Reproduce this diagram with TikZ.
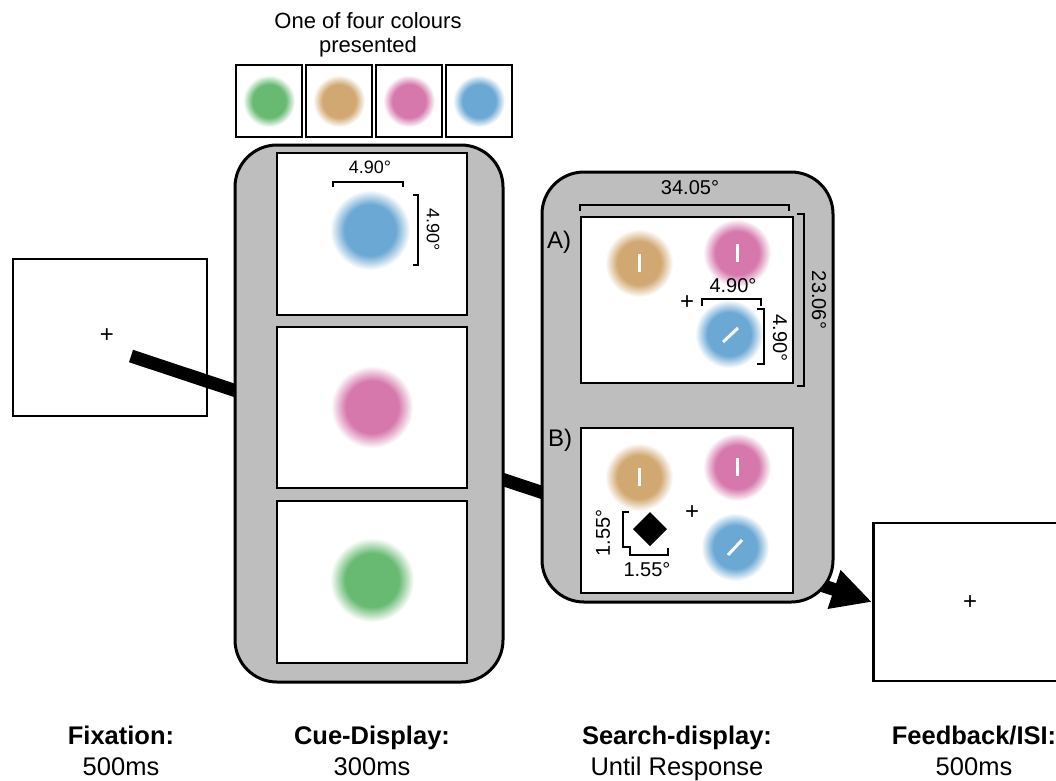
\documentclass[tikz,border=0pt]{standalone}
\usepackage{fontspec}
\setmainfont{Liberation Sans}
\usetikzlibrary{arrows.meta}

\definecolor{panelgrey}{RGB}{190,190,190}
\definecolor{cgreen}{RGB}{104,186,114}
\definecolor{ctan}{RGB}{210,168,114}
\definecolor{cpink}{RGB}{214,120,172}
\definecolor{cblue}{RGB}{108,168,212}
\colorlet{cgreenmid}{cgreen!45!white}
\colorlet{ctanmid}{ctan!45!white}
\colorlet{cpinkmid}{cpink!45!white}
\colorlet{cbluemid}{cblue!45!white}

% soft-edged colour disc: solid core fading out to white at the rim
\newcommand\declareblob[1]{%
  \pgfdeclareradialshading{blob#1}{\pgfpoint{0bp}{0bp}}%
    {color(0bp)=(c#1); color(16bp)=(c#1); color(21bp)=(c#1mid); color(25bp)=(white); color(50bp)=(white)}}
\declareblob{green}
\declareblob{tan}
\declareblob{pink}
\declareblob{blue}
\newcommand\blob[4]{\shade[shading=blob#1] (#2,#3) circle (#4pt);}

\begin{document}
\begin{tikzpicture}[x=1pt,y=-1pt,
  screen/.style={draw, line width=2.8pt, fill=white, inner sep=0pt},
  holder/.style={draw, line width=3pt, fill=panelgrey, rounded corners=42pt, inner sep=0pt},
  bracket/.style={line width=2pt},
  bar/.style={white, line width=3pt},
  deg/.style={font=\fontsize{20}{22}\selectfont, inner sep=0pt},
  smalldeg/.style={font=\fontsize{18}{20}\selectfont, inner sep=0pt},
  fixcross/.style={font=\fontsize{24}{24}\selectfont, inner sep=0pt},
  tag/.style={font=\fontsize{24}{26}\selectfont, inner sep=0pt},
  title/.style={font=\fontsize{22}{24}\selectfont, inner sep=0pt, anchor=base},
  phase/.style={font=\bfseries\fontsize{25.5}{28}\selectfont, inner sep=0pt, anchor=base},
  timing/.style={font=\fontsize{25.5}{28}\selectfont, inner sep=0pt, anchor=base}]
\useasboundingbox (0,0) rectangle (1056,780);

% fixation and feedback screens
\node[screen, minimum width=194pt, minimum height=157pt] (fix) at (110,337.5) {};
\node[fixcross] (fixplus) at (107,336) {+};
\node[screen, minimum width=200pt, minimum height=158pt, anchor=west] (fb) at (872,602) {};
\node[fixcross] (fbplus) at (970,603) {+};

% trial time line, running behind the grey holders
\coordinate (start) at (131,356);
\draw[line width=13pt, -{Triangle[length=40pt,width=38pt]}] (start) -- (fb.west);

% colour swatches
\node[title] (title1) at (368,28) {One of four colours};
\node[title] (title2) at (368,52) {presented};
\foreach \c [count=\i] in {green,tan,pink,blue}{
  \node[screen, minimum width=66pt, minimum height=72pt] (sw\i) at (199+70*\i,101) {};
  \blob{\c}{199+70*\i}{101}{26}
}

% cue display
\node[holder, minimum width=268pt, minimum height=537pt] (cue) at (369,413.5) {};
\node[screen, minimum width=190pt, minimum height=162pt] (cueA) at (372,234) {};
\node[screen, minimum width=190pt, minimum height=161pt] (cueB) at (372,407.5) {};
\node[screen, minimum width=190pt, minimum height=162pt] (cueC) at (372,582) {};
\blob{blue}{370}{230}{40}
\blob{pink}{372}{407}{41}
\blob{green}{372}{580}{42}
\draw[bracket] (333,187) -- (333,182) -- (403,182) -- (403,187);
\node[smalldeg] (cuew) at (370,167) {4.90°};
\draw[bracket] (413,195) -- (418,195) -- (418,265) -- (413,265);
\node[smalldeg, rotate=-90] (cueh) at (433,230) {4.90°};

% search display
\node[holder, minimum width=291pt, minimum height=430pt] (search) at (687.5,387) {};
\node[screen, minimum width=212pt, minimum height=166pt] (srchA) at (687,300) {};
\node[screen, minimum width=212pt, minimum height=165pt] (srchB) at (687,510.5) {};
\node[deg] (scrw) at (690,188) {34.05°};
\draw[bracket] (580,211) -- (580,205) -- (789,205) -- (789,211);
\draw[bracket] (797,214) -- (804,214) -- (804,386) -- (797,386);
\node[deg, rotate=-90] (scrh) at (819,300) {23.06°};
\node[tag] (tagA) at (559,242) {A)};
\node[tag] (tagB) at (560,440) {B)};

% panel A
\blob{tan}{639}{263}{34}
\blob{pink}{737}{253}{34}
\blob{blue}{729}{334}{34}
\draw[bar] (639,254) -- (639,272);
\draw[bar] (737,244) -- (737,262);
\draw[bar] (723,342) -- (738,328);
\node[fixcross] (plusA) at (687,303) {+};
\node[deg] (itemw) at (733,286) {4.90°};
\draw[bracket] (702,306) -- (702,299) -- (761,299) -- (761,306);
\draw[bracket] (757,309) -- (764,309) -- (764,364) -- (757,364);
\node[deg, rotate=-90] (itemh) at (780,338) {4.90°};

% panel B
\blob{tan}{639}{477}{34}
\blob{pink}{737}{467}{34}
\blob{blue}{735}{547}{34}
\draw[bar] (639,468) -- (639,486);
\draw[bar] (737,458) -- (737,476);
\draw[bar] (728,555) -- (742,540);
\node[fixcross] (plusB) at (692,513) {+};
\fill (650,512) -- (667,529) -- (650,546) -- (633,529) -- cycle;
\draw[bracket] (629,512) -- (623,512) -- (623,547) -- (630,547) -- (630,555) -- (668,555) -- (668,548);
\node[deg, rotate=90] (diah) at (603,533) {1.55°};
\node[deg] (diaw) at (647,570) {1.55°};

% phase labels
\node[phase] (l1) at (121,744) {Fixation:};
\node[timing] (t1) at (121,775) {500ms};
\node[phase] (l2) at (372,744) {Cue-Display:};
\node[timing] (t2) at (372,775) {300ms};
\node[phase] (l3) at (677,744) {Search-display:};
\node[timing] (t3) at (677,775) {Until Response};
\node[phase] (l4) at (974,744) {Feedback/ISI:};
\node[timing] (t4) at (974,775) {500ms};
\end{tikzpicture}
\end{document}
